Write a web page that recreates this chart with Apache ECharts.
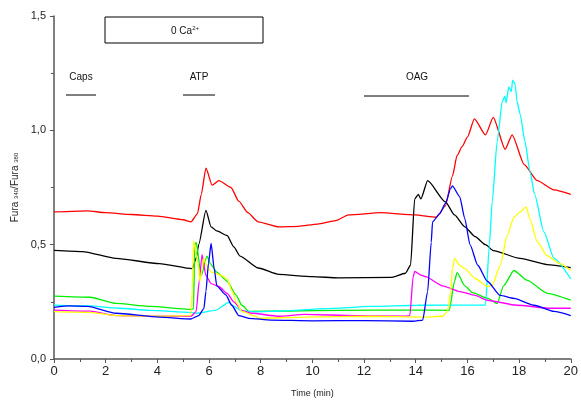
<!DOCTYPE html>
<html>
<head>
<meta charset="utf-8">
<script src="https://cdn.jsdelivr.net/npm/echarts@6/dist/echarts.min.js"></script>
<style>
  html, body { margin: 0; padding: 0; background: #fff; }
  #chart { width: 581px; height: 403px; }
</style>
</head>
<body>
<div id="chart"></div>
<script>
// time (min), Fura340/Fura380 ratio
const red = [[0,0.643],[1.3,0.648],[2,0.64],[3,0.632],[4,0.625],[5,0.609],[5.3,0.6],[5.55,0.635],[5.7,0.72],[5.88,0.835],[6.12,0.76],[6.38,0.78],[6.85,0.75],[7.15,0.69],[7.5,0.64],[7.9,0.6],[8.7,0.578],[9.46,0.58],[10.2,0.59],[10.9,0.605],[11.4,0.63],[12.65,0.64],[13.97,0.63],[14.8,0.62],[15.15,0.67],[15.42,0.8],[15.6,0.89],[15.8,0.93],[16,0.97],[16.27,1.05],[16.7,0.98],[17,1.057],[17.46,0.917],[17.73,0.98],[18.2,0.85],[18.7,0.78],[19.35,0.74],[20,0.72]]
const black = [[0,0.475],[1.1,0.47],[2.4,0.44],[4.08,0.417],[5.35,0.395],[5.5,0.44],[5.6,0.5],[5.88,0.65],[6.08,0.578],[6.3,0.56],[6.7,0.54],[6.96,0.49],[7.2,0.45],[7.9,0.398],[8.7,0.37],[10,0.36],[11,0.355],[13.05,0.357],[13.6,0.375],[13.8,0.41],[13.96,0.7],[14.1,0.72],[14.2,0.7],[14.46,0.78],[15.15,0.687],[15.5,0.63],[15.9,0.578],[16.3,0.535],[16.7,0.5],[17,0.474],[18.04,0.44],[19.08,0.413],[20,0.4]]
const green = [[0,0.275],[1.4,0.27],[2.4,0.243],[3.7,0.23],[5.3,0.217],[5.4,0.22],[5.45,0.5],[5.5,0.51],[5.7,0.365],[5.92,0.45],[6.05,0.417],[6.3,0.38],[6.7,0.34],[7.04,0.28],[7.27,0.235],[7.55,0.208],[9.1,0.21],[11,0.213],[14,0.214],[15.3,0.213],[15.5,0.34],[15.6,0.378],[15.9,0.32],[16.2,0.29],[16.8,0.265],[17.15,0.243],[17.4,0.32],[17.8,0.387],[18.3,0.345],[19.1,0.287],[20,0.257]]
const cyan = [[0,0.236],[1.4,0.232],[2.5,0.222],[3.7,0.213],[5.3,0.204],[5.5,0.2],[6.25,0.213],[6.77,0.248],[6.96,0.23],[7.27,0.21],[7.8,0.206],[8.8,0.21],[10.5,0.22],[12.27,0.23],[14.08,0.235],[16.7,0.236],[16.85,0.5],[16.96,0.687],[17.15,0.95],[17.35,1.126],[17.45,1.15],[17.5,1.12],[17.6,1.19],[17.7,1.17],[17.75,1.22],[17.85,1.2],[17.92,1.126],[18.04,1.07],[18.23,0.95],[18.42,0.82],[18.6,0.72],[18.96,0.556],[19.35,0.44],[20,0.35]]
const blue = [[0,0.226],[0.6,0.232],[1.3,0.23],[2.4,0.2],[4.08,0.183],[5.3,0.175],[5.6,0.19],[5.8,0.22],[5.88,0.295],[5.98,0.42],[6.08,0.505],[6.2,0.395],[6.3,0.32],[6.65,0.28],[6.88,0.235],[7.15,0.19],[7.54,0.178],[8.4,0.17],[10,0.167],[12,0.168],[13.9,0.165],[14.27,0.17],[14.46,0.295],[14.6,0.51],[14.65,0.6],[14.92,0.635],[15.15,0.68],[15.35,0.745],[15.42,0.757],[15.7,0.71],[15.9,0.613],[16.1,0.5],[16.4,0.41],[16.77,0.34],[17.27,0.278],[17.8,0.265],[18.58,0.235],[19.35,0.208],[20,0.19]]
const magenta = [[0,0.214],[1.4,0.209],[2.4,0.19],[4,0.187],[5.3,0.187],[5.5,0.207],[5.62,0.34],[5.73,0.456],[5.88,0.365],[6.08,0.33],[6.38,0.317],[6.7,0.287],[6.96,0.25],[7.27,0.213],[7.65,0.2],[8.7,0.187],[9.7,0.195],[11.65,0.19],[13.6,0.187],[13.77,0.19],[13.9,0.36],[13.96,0.383],[14.2,0.367],[14.38,0.36],[15.04,0.32],[15.7,0.295],[16.3,0.278],[16.77,0.257],[17.92,0.235],[19.2,0.222],[20,0.222]]
const yellow = [[0,0.207],[1.4,0.204],[2.4,0.19],[4,0.187],[5.3,0.19],[5.35,0.3],[5.4,0.517],[5.54,0.44],[5.65,0.34],[5.73,0.395],[5.8,0.44],[5.92,0.405],[6.1,0.38],[6.46,0.367],[6.7,0.35],[6.88,0.3],[7.08,0.243],[7.27,0.208],[7.8,0.187],[7.9,0.178],[9.7,0.183],[12.27,0.187],[14.4,0.183],[15.04,0.187],[15.23,0.208],[15.35,0.295],[15.42,0.395],[15.5,0.44],[15.7,0.41],[15.9,0.395],[16.3,0.352],[16.77,0.317],[16.96,0.322],[17.27,0.41],[17.54,0.54],[17.8,0.62],[18.04,0.643],[18.27,0.665],[18.42,0.613],[18.7,0.513],[19.08,0.452],[19.58,0.417],[20,0.387]]

const traces = [
  { data: red, color: '#ff0000' },
  { data: black, color: '#000000' },
  { data: green, color: '#00ee00' },
  { data: cyan, color: '#00ffff' },
  { data: magenta, color: '#ff00ff' },
  { data: yellow, color: '#ffff00' },
  { data: blue, color: '#0000ff' }
]

const font = 'Liberation Sans, Arial, sans-serif'
const chart = echarts.init(document.getElementById('chart'))

chart.setOption({
  animation: false,
  grid: { left: 54, right: 7, top: 16, bottom: 42 },
  xAxis: {
    type: 'value',
    min: 0,
    max: 20,
    interval: 2,
    name: 'Time (min)',
    nameLocation: 'middle',
    nameGap: 30,
    nameTextStyle: { fontFamily: font, fontSize: 9, color: '#222' },
    axisLine: { lineStyle: { color: '#555', width: 1.5 } },
    axisTick: { length: 4, lineStyle: { color: '#555' } },
    minorTick: { show: true, splitNumber: 2, length: 3, lineStyle: { color: '#555' } },
    axisLabel: { fontFamily: font, fontSize: 13, color: '#222', margin: 6 },
    splitLine: { show: false }
  },
  yAxis: {
    type: 'value',
    min: 0,
    max: 1.5,
    interval: 0.5,
    name: '{a|Fura }{s|340}{a|/Fura }{s|380}',
    nameLocation: 'middle',
    nameGap: 34,
    nameTextStyle: {
      rich: {
        a: { fontFamily: font, fontSize: 10, color: '#222' },
        s: { fontFamily: font, fontSize: 6, color: '#222', verticalAlign: 'bottom', padding: [4, 0, 0, 0] }
      }
    },
    axisLine: { show: true, lineStyle: { color: '#555', width: 1.5 } },
    axisTick: { show: true, length: 4, lineStyle: { color: '#555' } },
    minorTick: { show: true, splitNumber: 2, length: 3, lineStyle: { color: '#555' } },
    axisLabel: {
      fontFamily: font, fontSize: 11, color: '#222', margin: 8,
      formatter: v => v.toFixed(1).replace('.', ',')
    },
    splitLine: { show: false }
  },
  series: traces.map(t => ({
    type: 'line',
    data: t.data,
    showSymbol: false,
    smooth: 0.2,
    smoothMonotone: 'x',
    lineStyle: { color: t.color, width: 1.3 },
    itemStyle: { color: t.color }
  })),
  graphic: [
    { type: 'rect', shape: { x: 105, y: 17, width: 158, height: 26 }, style: { fill: 'none', stroke: '#000', lineWidth: 1 } },
    { type: 'text', x: 185, y: 31, style: { text: '0 Ca{sup|2+}', align: 'center', verticalAlign: 'middle', font: '10px Liberation Sans', fill: '#111',
      rich: { sup: { fontSize: 6, fontFamily: font, padding: [0, 0, 6, 0] } } } },
    { type: 'text', x: 81, y: 77, style: { text: 'Caps', align: 'center', verticalAlign: 'middle', font: '10px Liberation Sans', fill: '#111' } },
    { type: 'line', shape: { x1: 66, y1: 95, x2: 96, y2: 95 }, style: { stroke: '#000', lineWidth: 1 } },
    { type: 'text', x: 199, y: 77, style: { text: 'ATP', align: 'center', verticalAlign: 'middle', font: '10px Liberation Sans', fill: '#111' } },
    { type: 'line', shape: { x1: 183, y1: 95, x2: 215, y2: 95 }, style: { stroke: '#000', lineWidth: 1 } },
    { type: 'text', x: 417, y: 77, style: { text: 'OAG', align: 'center', verticalAlign: 'middle', font: '10px Liberation Sans', fill: '#111' } },
    { type: 'line', shape: { x1: 364, y1: 96, x2: 469, y2: 96 }, style: { stroke: '#000', lineWidth: 1 } }
  ]
})
</script>
</body>
</html>
